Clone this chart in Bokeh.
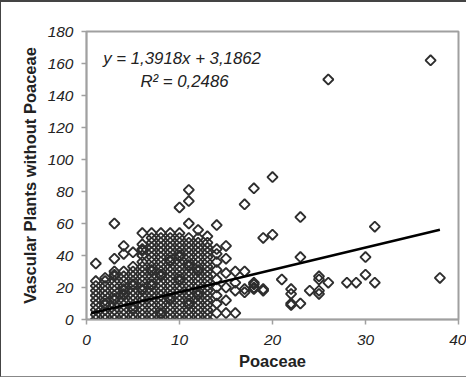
from bokeh.plotting import figure
from bokeh.models import Range1d, FixedTicker, Label
from bokeh.embed import file_html
from bokeh.resources import INLINE

# ---- data ----
# dense block: Poaceae value -> list of "Vascular plants without Poaceae" values
dense_x = [1, 2, 3, 4, 5, 6, 7, 8, 9, 10, 11, 12, 13]
dense_y = [
    [0, 3, 6, 9, 12, 15, 18, 21, 24, 35],
    [0, 3, 6, 9, 12, 15, 18, 21, 24, 26],
    [0, 3, 6, 9, 12, 15, 18, 21, 24, 27, 30, 38, 60],
    [0, 3, 6, 9, 12, 15, 18, 21, 24, 27, 30, 41, 46],
    [0, 3, 6, 9, 12, 15, 18, 21, 24, 27, 30, 33, 42],
    [0, 3, 6, 9, 12, 15, 18, 21, 24, 27, 30, 33, 36, 40, 44, 47, 54],
    [0, 3, 6, 9, 12, 15, 18, 21, 24, 27, 30, 33, 36, 39, 42, 45, 48, 51, 54],
    [0, 3, 6, 9, 12, 15, 18, 21, 24, 27, 30, 33, 36, 39, 42, 45, 48, 51, 54],
    [0, 3, 6, 9, 12, 15, 18, 21, 24, 27, 30, 33, 36, 39, 42, 45, 48, 51, 54],
    [0, 3, 6, 9, 12, 15, 18, 21, 24, 27, 30, 33, 36, 39, 42, 45, 48, 51, 54, 70],
    [0, 3, 6, 9, 12, 15, 18, 21, 24, 27, 30, 33, 36, 39, 42, 45, 48, 51, 60, 74, 81],
    [0, 3, 6, 9, 12, 15, 18, 21, 24, 27, 30, 33, 36, 39, 42, 45, 48, 51, 56],
    [0, 3, 6, 9, 12, 15, 18, 21, 24, 27, 30, 33, 36, 39, 42, 45, 48, 52],
]
# extra overlapping observations in the densest lower part
extra_x = [2, 3, 4, 5, 6, 7, 8, 9, 10, 11, 12,
           3, 5, 7, 9, 11, 4, 6, 8, 10, 12]
extra_y = [10, 13, 16, 7, 19, 22, 4, 13, 25, 10, 16,
           28, 22, 31, 37, 34, 19, 43, 28, 40, 31]

# sparse points
sparse_x = [14, 14, 14, 14, 14, 14, 14, 14, 14, 14,
            15, 15, 15, 15, 15, 15,
            16, 16, 16, 16,
            17, 17, 17, 17,
            18, 18, 18, 18, 18,
            19, 19, 19,
            20, 20,
            21, 22, 22, 22, 22,
            23, 23, 23, 24,
            25, 25, 25, 25,
            26, 26, 28, 29, 30, 30, 31, 31, 37, 38]
sparse_y = [4, 10, 15, 20, 25, 31, 36, 41, 44, 59,
            4, 12, 20, 29, 38, 46,
            4, 18, 23, 30,
            17, 19, 30, 72,
            19, 20, 22, 23, 82,
            18, 19, 51,
            53, 89,
            25, 19, 16, 10, 9,
            64, 39, 10, 18,
            27, 25, 18, 16,
            23, 150, 23, 23, 39, 28, 58, 23, 162, 26]

# linear trend reported on the chart
slope = 1.3918
intercept = 3.1862
trend_x = [0.5, 38]

x_ticks = [0, 10, 20, 30, 40]
y_ticks = [0, 20, 40, 60, 80, 100, 120, 140, 160, 180]

eq_text = "y = 1,3918x + 3,1862"
r2_text = "R\u00b2 = 0,2486"

# ---- build ----
xs, ys = [], []
for xv, col in zip(dense_x, dense_y):
    for yv in col:
        xs.append(xv)
        ys.append(yv)
xs += extra_x + sparse_x
ys += extra_y + sparse_y

FONT = "Liberation Sans"

p = figure(width=466, height=377, output_backend="svg", toolbar_location=None,
           x_range=Range1d(0, 40), y_range=Range1d(0, 180),
           min_border_left=85, min_border_right=9, min_border_top=29, min_border_bottom=60)
p.styles = {"border-top": "2px solid #444", "border-left": "1px solid #444",
            "border-bottom": "1px solid #888"}
p.xgrid.visible = False
p.ygrid.visible = False
p.outline_line_color = "#a0a0a0"
p.outline_line_width = 2
p.background_fill_color = "white"
p.border_fill_color = "white"

p.scatter(xs, ys, marker="square", angle=0.785398, size=7.2,
          fill_alpha=0, line_color="#2e2e2e", line_width=1.9)

p.line(trend_x, [slope * t + intercept for t in trend_x], line_color="black", line_width=2.5)

for ax in (p.xaxis[0], p.yaxis[0]):
    ax.axis_line_color = "#a0a0a0"
    ax.axis_line_width = 1.5
    ax.major_tick_line_color = "#a0a0a0"
    ax.major_tick_line_width = 1.5
    ax.major_tick_out = 5
    ax.major_tick_in = 0
    ax.minor_tick_line_color = None
    ax.major_label_text_font = FONT
    ax.major_label_text_font_style = "italic"
    ax.major_label_text_font_size = "15.5px"
    ax.major_label_text_color = "#222222"
    ax.axis_label_text_font = FONT
    ax.axis_label_text_font_style = "bold"
    ax.axis_label_text_font_size = "16.5px"
    ax.axis_label_text_color = "#222222"

p.xaxis.ticker = FixedTicker(ticks=x_ticks)
p.yaxis.ticker = FixedTicker(ticks=y_ticks)
p.xaxis.major_label_standoff = 10
p.yaxis.major_label_standoff = 8
p.xaxis.axis_label = "Poaceae"
p.yaxis.axis_label = "Vascular Plants without Poaceae"
p.xaxis.axis_label_standoff = 4
p.yaxis.axis_label_standoff = 6

p.add_layout(Label(x=1.8, y=163, text=eq_text, text_font=FONT, text_font_style="italic",
                   text_font_size="16.8px", text_color="#222222", text_baseline="middle"))
p.add_layout(Label(x=5.8, y=148.5, text=r2_text, text_font=FONT, text_font_style="italic",
                   text_font_size="16.8px", text_color="#222222", text_baseline="middle"))

open("out.html", "w").write(file_html(p, INLINE))
